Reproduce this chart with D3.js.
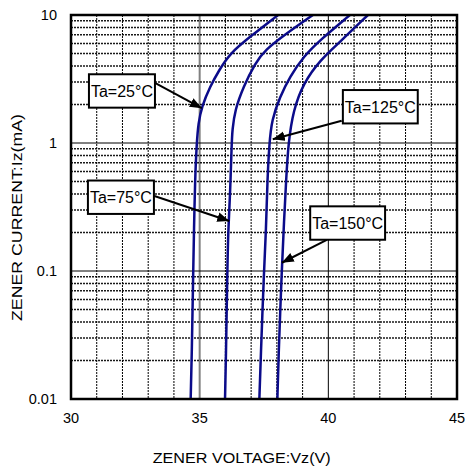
<!DOCTYPE html>
<html><head><meta charset="utf-8">
<script src="https://cdn.jsdelivr.net/npm/d3@7"></script>
<style>html,body{margin:0;padding:0;background:#fff}svg{display:block}</style>
</head><body>
<svg id="c" width="467" height="471"></svg>
<script>
// ---- data ----
const xTicks = [30, 35, 40, 45];
const xTickLabels = ["30", "35", "40", "45"];
const yTicks = [0.01, 0.1, 1, 10];
const yTickLabels = ["0.01", "0.1", "1", "10"];

const v25 = [34.65, 34.69, 34.75, 34.78, 34.82, 34.885, 34.95, 35.08, 35.40, 35.76, 36.18, 36.96, 38.05];
const i25 = [0.01, 0.0202, 0.102, 0.209, 0.514, 1.0, 1.43, 1.92, 2.75, 3.72, 5.02, 6.77, 10];
const v75 = [35.985, 36.02, 36.075, 36.11, 36.18, 36.245, 36.27, 36.37, 36.70, 37.15, 37.54, 38.38, 39.40];
const i75 = [0.01, 0.0202, 0.102, 0.209, 0.381, 1.0, 1.26, 1.81, 2.75, 4.19, 5.33, 7.19, 10];
const v125 = [37.32, 37.37, 37.50, 37.58, 37.63, 37.71, 37.80, 38.12, 38.51, 39.03, 39.68, 40.84];
const i125 = [0.01, 0.0202, 0.102, 0.209, 0.514, 1.0, 1.51, 2.30, 3.30, 4.72, 6.38, 10];
const v150 = [38.02, 38.06, 38.19, 38.28, 38.36, 38.445, 38.64, 39.03, 39.68, 40.46, 41.54];
const i150 = [0.01, 0.0202, 0.102, 0.25, 0.514, 1.0, 1.81, 2.93, 4.45, 6.18, 10];

const labelTexts = ["Ta=25°C", "Ta=75°C", "Ta=125°C", "Ta=150°C"];
// annotation anchors in data units: box centre, arrow tail, arrow tip
const boxV = [31.98, 31.94, 42.02, 40.75];
const boxI = [2.55, 0.377, 1.92, 0.237];
const tailV = [33.28, 33.24, 40.52, 39.94];
const tailI = [2.93, 0.385, 1.49, 0.175];
const tipV = [35.08, 36.15, 37.84, 38.19];
const tipI = [1.87, 0.246, 1.07, 0.116];

// ---- layout ----
const L = 71, R = 457, T = 15, B = 399;
const svg = d3.select("#c");
const x = d3.scaleLinear().domain([30, 45]).range([L, R]);
const y = d3.scaleLog().domain([0.01, 10]).range([B, T]);
const font = "'Liberation Sans', Arial, sans-serif";

const grid = svg.append("g");
// vertical grid
const xMinor = d3.range(31, 45).filter(v => v % 5 !== 0);
grid.selectAll(".vm").data(xMinor).join("line")
  .attr("x1", d => x(d)).attr("x2", d => x(d)).attr("y1", T).attr("y2", B)
  .attr("stroke", "#000").attr("stroke-width", 1).attr("stroke-dasharray", "2,1");
grid.append("line").attr("x1", x(35)).attr("x2", x(35)).attr("y1", T).attr("y2", B)
  .attr("stroke", "#808080").attr("stroke-width", 2);
grid.append("line").attr("x1", x(40)).attr("x2", x(40)).attr("y1", T).attr("y2", B)
  .attr("stroke", "#000").attr("stroke-width", 1);
// horizontal grid
const yMinor = [];
[0.01, 0.1, 1].forEach(d => { for (let k = 2; k <= 9; k++) yMinor.push(d * k); });
grid.selectAll(".hm").data(yMinor).join("line")
  .attr("x1", L).attr("x2", R).attr("y1", d => y(d)).attr("y2", d => y(d))
  .attr("stroke", "#000").attr("stroke-width", 1.5).attr("stroke-dasharray", "2,1").attr("stroke-opacity", 0.9);
grid.selectAll(".hM").data([0.1, 1]).join("line")
  .attr("x1", L).attr("x2", R).attr("y1", d => y(d)).attr("y2", d => y(d))
  .attr("stroke", "#000").attr("stroke-width", 1);

// curves
const line = d3.line().x(d => x(d[0])).y(d => y(d[1])).curve(d3.curveBasis);
const series = [[v25, i25], [v75, i75], [v125, i125], [v150, i150]];
svg.append("g").selectAll("path").data(series).join("path")
  .attr("d", s => line(s[0].map((v, k) => [v, s[1][k]])))
  .attr("fill", "none").attr("stroke", "#0b0b8a").attr("stroke-width", 2.5);

// frame
svg.append("rect").attr("x", L).attr("y", T).attr("width", R - L).attr("height", B - T)
  .attr("fill", "none").attr("stroke", "#000").attr("stroke-width", 2.5);

// tick labels
svg.append("g").selectAll("text").data(xTicks).join("text")
  .attr("x", d => x(d)).attr("y", 422.5).attr("text-anchor", "middle")
  .attr("font-family", font).attr("font-size", 14.5).text((d, k) => xTickLabels[k]);
svg.append("g").selectAll("text").data(yTicks).join("text")
  .attr("x", 57).attr("y", d => y(d) + 5).attr("text-anchor", "end")
  .attr("font-family", font).attr("font-size", 14.5).text((d, k) => yTickLabels[k]);

// axis titles
svg.append("text").attr("x", 241.7).attr("y", 462.5).attr("text-anchor", "middle")
  .attr("font-family", font).attr("font-size", 15.5)
  .attr("textLength", 178).attr("lengthAdjust", "spacingAndGlyphs")
  .text("ZENER VOLTAGE:Vz(V)");
svg.append("text").attr("transform", "translate(22,217.5) rotate(-90)").attr("text-anchor", "middle")
  .attr("font-family", font).attr("font-size", 15.5)
  .attr("textLength", 207).attr("lengthAdjust", "spacingAndGlyphs")
  .text("ZENER CURRENT:Iz(mA)");

// annotations
const defs = svg.append("defs");
defs.append("marker").attr("id", "ah").attr("markerUnits", "userSpaceOnUse")
  .attr("viewBox", "0 0 10 8").attr("refX", 10).attr("refY", 4)
  .attr("markerWidth", 12).attr("markerHeight", 10).attr("orient", "auto")
  .append("path").attr("d", "M0,0 L10,4 L0,8 Z").attr("fill", "#000");

const ann = svg.append("g");
labelTexts.forEach((t, k) => {
  ann.append("line")
    .attr("x1", x(tailV[k])).attr("y1", y(tailI[k]))
    .attr("x2", x(tipV[k])).attr("y2", y(tipI[k]))
    .attr("stroke", "#000").attr("stroke-width", 2).attr("marker-end", "url(#ah)");
  const cx = x(boxV[k]), cy = y(boxI[k]);
  const txt = ann.append("text").attr("x", cx).attr("y", cy + 6).attr("text-anchor", "middle")
    .attr("font-family", font).attr("font-size", 16).text(t);
  const w = txt.node().getComputedTextLength() + 4;
  ann.insert("rect", () => txt.node())
    .attr("x", cx - w / 2).attr("y", cy - 16.7).attr("width", w).attr("height", 33.4)
    .attr("fill", "#fff").attr("stroke", "#000").attr("stroke-width", 2);
});
</script>
</body></html>
